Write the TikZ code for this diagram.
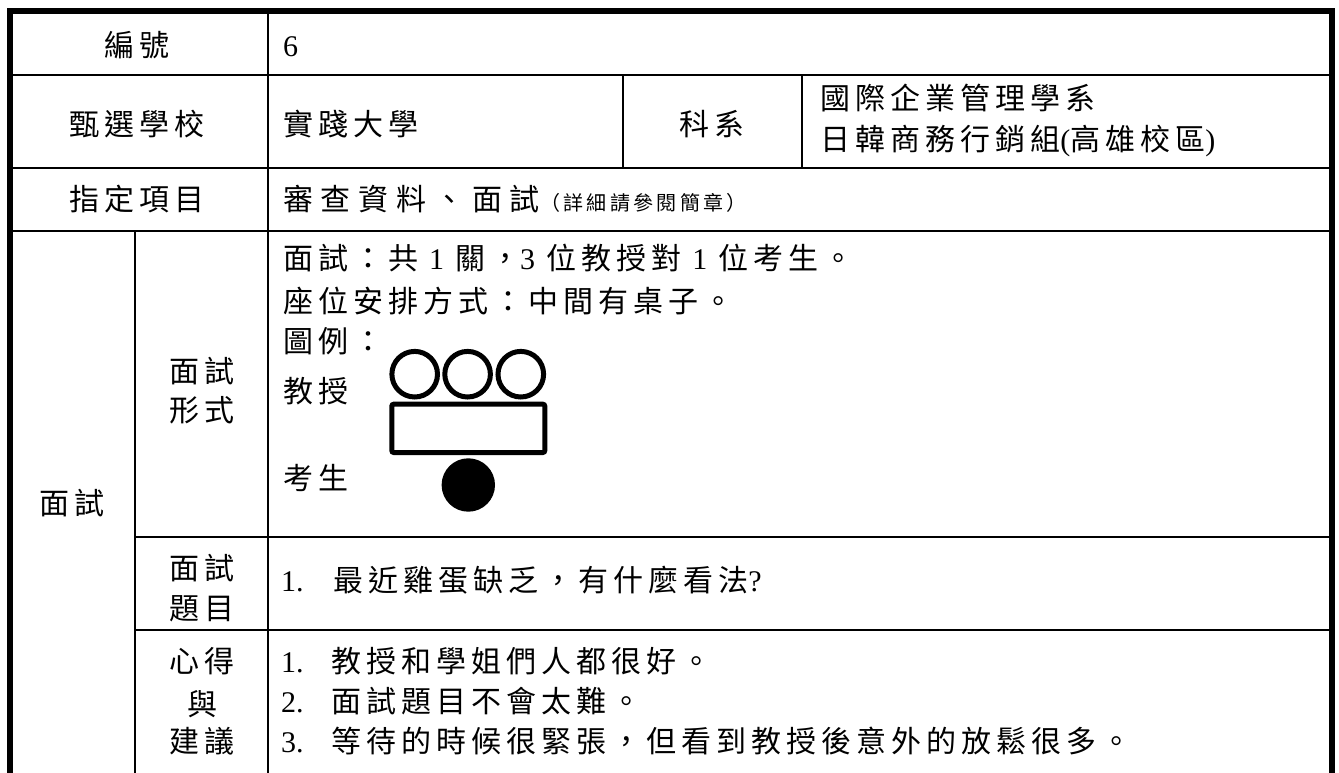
\documentclass[tikz,border=0pt]{standalone}
\usepackage{fontspec}
\setmainfont{Liberation Serif}
\newfontfamily\cjk[LetterSpace=16.7]{Noto Sans CJK TC}
\newfontfamily\cjkwide[LetterSpace=26]{Noto Sans CJK TC}
\newcommand\bigf{\fontsize{30}{36}\selectfont}
\newcommand\smallf{\fontsize{20}{24}\selectfont}
\newcommand\gap{\hspace*{11pt}}
\begin{document}
\begin{tikzpicture}[x=1pt,y=-1pt,
  gridline/.style={line width=2.5pt},
  framepath/.style={line width=6pt},
  lbl/.style={inner sep=0pt, anchor=base, font=\bigf},
  txt/.style={inner sep=0pt, anchor=base west, font=\bigf},
  legendline/.style={line width=5pt}]
\useasboundingbox (0,0) rectangle (1339,773);
% grid
\draw[gridline] (10,75) -- (1331.5,75);
\draw[gridline] (10,168) -- (1331.5,168);
\draw[gridline] (10,231) -- (1331.5,231);
\draw[gridline] (135,537) -- (1331.5,537);
\draw[gridline] (135,630) -- (1331.5,630);
\draw[gridline] (268,11) -- (268,773);
\draw[gridline] (135,231) -- (135,773);
\draw[gridline] (623,75) -- (623,168);
\draw[gridline] (802,75) -- (802,168);
% frame
\draw[framepath] (10,773) -- (10,11) -- (1331.5,11) -- (1331.5,773);
% row 1
\node[lbl] (bianhao) at (137,57) {\cjk 編號};
\node[txt] (num) at (283,57) {6};
% row 2
\node[lbl] (school) at (137,136) {\cjk 甄選學校};
\node[txt] (schoolv) at (283,136) {\cjk 實踐大學};
\node[lbl] (dept) at (712,136) {\cjk 科系};
\node[txt] (deptv1) at (820,110) {\cjk 國際企業管理學系};
\node[txt] (deptv2) at (820,151) {{\cjk 日韓商務行銷組}({\cjk 高雄校區})};
% row 3
\node[lbl] (item) at (137,211) {\cjk 指定項目};
\node[txt] (itemv) at (283,211) {{\cjkwide 審查資料、面試}{\smallf\cjk （詳細請參閱簡章）}};
% row 4
\node[lbl] (mianshi) at (72,514) {\cjk 面試};
\node[lbl] (form1) at (202,382) {\cjk 面試};
\node[lbl] (form2) at (202,421) {\cjk 形式};
\node[txt] (l1) at (283,269) {{\cjk 面試：共}\gap1\gap{\cjk 關，}3\gap{\cjk 位教授對}\gap1\gap{\cjk 位考生。}};
\node[txt] (l2) at (283,312) {\cjk 座位安排方式：中間有桌子。};
\node[txt] (l3) at (283,352) {\cjk 圖例：};
\node[txt] (prof) at (283,402) {\cjk 教授};
\node[txt] (stud) at (283,489) {\cjk 考生};
\draw[legendline] (414.7,374.2) circle[radius=22.8pt];
\draw[legendline] (467.6,374.2) circle[radius=22.8pt];
\draw[legendline] (520.8,374.2) circle[radius=22.8pt];
\draw[legendline, rounded corners=2pt] (391.8,404.2) rectangle (544.8,452.5);
\fill (468.3,485) circle[radius=26.7pt];
% row 5
\node[lbl] (q1) at (202,579) {\cjk 面試};
\node[lbl] (q2) at (202,619) {\cjk 題目};
\node[txt] (qn) at (281,591) {1.};
\node[txt] (qt) at (333,591) {{\cjk 最近雞蛋缺乏，有什麼看法}?};
% row 6
\node[lbl] (s1) at (202,672) {\cjk 心得};
\node[lbl] (s2) at (202,715) {\cjk 與};
\node[lbl] (s3) at (202,752) {\cjk 建議};
\node[txt] (n1) at (281,672) {1.};
\node[txt] (t1) at (331,672) {\cjk 教授和學姐們人都很好。};
\node[txt] (n2) at (281,712) {2.};
\node[txt] (t2) at (331,712) {\cjk 面試題目不會太難。};
\node[txt] (n3) at (281,752) {3.};
\node[txt] (t3) at (331,752) {\cjk 等待的時候很緊張，但看到教授後意外的放鬆很多。};
\end{tikzpicture}
\end{document}
